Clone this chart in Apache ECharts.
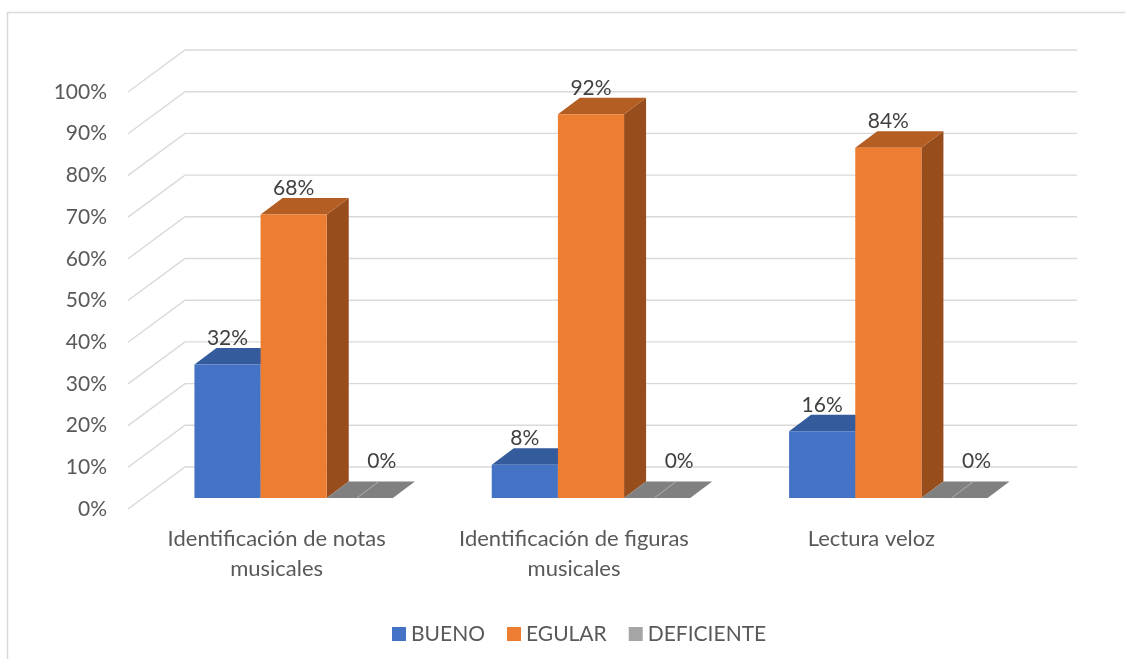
<!DOCTYPE html>
<html>
<head>
<meta charset="utf-8">
<script src="https://cdn.jsdelivr.net/npm/echarts@6/dist/echarts.min.js"></script>
<style>
  html, body { margin: 0; padding: 0; background: #ffffff; }
  #chart { width: 1125px; height: 659px; }
</style>
</head>
<body>
<div id="chart"></div>
<script>
// Categories and series values (percent)
const categories = [
  'Identificación de notas\nmusicales',
  'Identificación de figuras\nmusicales',
  'Lectura veloz'
];
const bueno = [32, 8, 16];
const egular = [68, 92, 84];
const deficiente = [0, 0, 0];
const seriesNames = ['BUENO', 'EGULAR', 'DEFICIENTE'];
const yTicks = [0, 10, 20, 30, 40, 50, 60, 70, 80, 90, 100];

// Pseudo-3D projection: the back wall sits up and to the right of the axis plane
const WALL = [57, -42];      // offset from front plane to back wall
const NEAR = [17, -11];      // offset of the bar front faces
const FAR = [39, -27.5];     // offset of the bar back faces
const BAR_FRAC = 0.2225;     // bar width as share of category band
const FONT = 'Lato, "Open Sans", sans-serif';

const faces = [
  { front: '#4472C4', top: '#345B9C', side: '#2A4A80', legend: '#4472C4' },
  { front: '#ED7D31', top: '#B55E23', side: '#984D1D', legend: '#ED7D31' },
  { front: '#A5A5A5', top: '#808080', side: '#6E6E6E', legend: '#A5A5A5' }
];

function wallRenderer(params, api) {
  const v = api.value(1);
  const cs = params.coordSys;
  const y = api.coord([0, v])[1];
  const x0 = cs.x;
  const x1 = cs.x + cs.width;
  return {
    type: 'polyline',
    shape: { points: [[x0, y], [x0 + WALL[0], y + WALL[1]], [x1 + WALL[0], y + WALL[1]]] },
    style: { stroke: '#D9D9D9', lineWidth: 1.4, fill: null },
    silent: true
  };
}

function barRenderer(idx) {
  const c = faces[idx];
  return function (params, api) {
    const cat = api.value(0);
    const v = api.value(1);
    const base = api.coord([cat, 0]);
    const head = api.coord([cat, v]);
    const band = api.size([1, 0])[0];
    const w = band * BAR_FRAC;
    const x0 = base[0] + NEAR[0] - 1.5 * w + idx * w;
    const x1 = x0 + w;
    const yb = base[1] + NEAR[1];
    const yt = head[1] + NEAR[1];
    const dx = FAR[0] - NEAR[0];
    const dy = FAR[1] - NEAR[1];
    const children = [];
    if (v > 0) {
      children.push({
        type: 'polygon',
        shape: { points: [[x1, yb], [x1 + dx, yb + dy], [x1 + dx, yt + dy], [x1, yt]] },
        style: { fill: c.side }
      });
      children.push({
        type: 'polygon',
        shape: { points: [[x0, yt], [x1, yt], [x1 + dx, yt + dy], [x0 + dx, yt + dy]] },
        style: { fill: c.top }
      });
      children.push({
        type: 'rect',
        shape: { x: x0, y: yt, width: w, height: yb - yt },
        style: { fill: c.front }
      });
      children.push({
        type: 'text',
        style: {
          text: v + '%', x: (x0 + x1) / 2, y: yt + dy + 1,
          align: 'center', verticalAlign: 'bottom',
          fill: '#404040', font: '21px ' + FONT
        }
      });
    } else {
      const mx = (x0 + x1) / 2;
      children.push({
        type: 'polygon',
        shape: { points: [[x0, yb], [x1, yb], [x1 + dx, yb + dy], [x0 + dx, yb + dy]] },
        style: { fill: c.top }
      });
      children.push({
        type: 'line',
        shape: { x1: mx - 3, y1: yb, x2: mx - 3 + dx, y2: yb + dy },
        style: { stroke: '#B0B0B0', lineWidth: 1 }
      });
      children.push({
        type: 'text',
        style: {
          text: v + '%', x: mx + dx, y: yb + dy - 10,
          align: 'center', verticalAlign: 'bottom',
          fill: '#404040', font: '21px ' + FONT
        }
      });
    }
    return { type: 'group', children: children };
  };
}

const values = [bueno, egular, deficiente];
const barSeries = values.map(function (arr, idx) {
  return {
    name: seriesNames[idx],
    type: 'custom',
    coordinateSystem: 'cartesian2d',
    renderItem: barRenderer(idx),
    encode: { x: 0, y: 1 },
    itemStyle: { color: faces[idx].legend },
    data: arr.map(function (v, i) { return [i, v]; }),
    z: 3 + idx
  };
});

const chart = echarts.init(document.getElementById('chart'), null, { renderer: 'canvas' });
chart.setOption({
  animation: false,
  backgroundColor: '#ffffff',
  graphic: [{
    type: 'rect',
    shape: { x: 7.5, y: 12.5, width: 1130, height: 660 },
    style: { fill: null, stroke: '#D9D9D9', lineWidth: 1.5 },
    silent: true,
    z: -10
  }],
  grid: { left: 128, right: 105, top: 92, bottom: 150 },
  legend: {
    data: seriesNames,
    left: 387,
    top: 617,
    icon: 'rect',
    itemWidth: 14,
    itemHeight: 14,
    itemGap: 22,
    textStyle: { color: '#595959', fontSize: 21, fontFamily: FONT, lineHeight: 24 }
  },
  xAxis: {
    type: 'category',
    data: categories,
    axisLine: { show: false },
    axisTick: { show: false },
    splitLine: { show: false },
    axisLabel: {
      interval: 0, margin: 15, fontSize: 22, lineHeight: 30,
      color: '#595959', fontFamily: FONT, verticalAlign: 'top'
    }
  },
  yAxis: {
    type: 'value',
    min: 0, max: 100, interval: 10,
    axisLine: { show: false },
    axisTick: { show: false },
    splitLine: { show: false },
    axisLabel: {
      formatter: '{value}%', margin: 21, fontSize: 21,
      color: '#595959', fontFamily: FONT, padding: [4, 0, 0, 0]
    }
  },
  series: [{
    name: 'wall',
    type: 'custom',
    coordinateSystem: 'cartesian2d',
    renderItem: wallRenderer,
    encode: { x: 0, y: 1 },
    data: yTicks.map(function (t) { return [0, t]; }),
    silent: true,
    z: 1
  }].concat(barSeries)
});
</script>
</body>
</html>
